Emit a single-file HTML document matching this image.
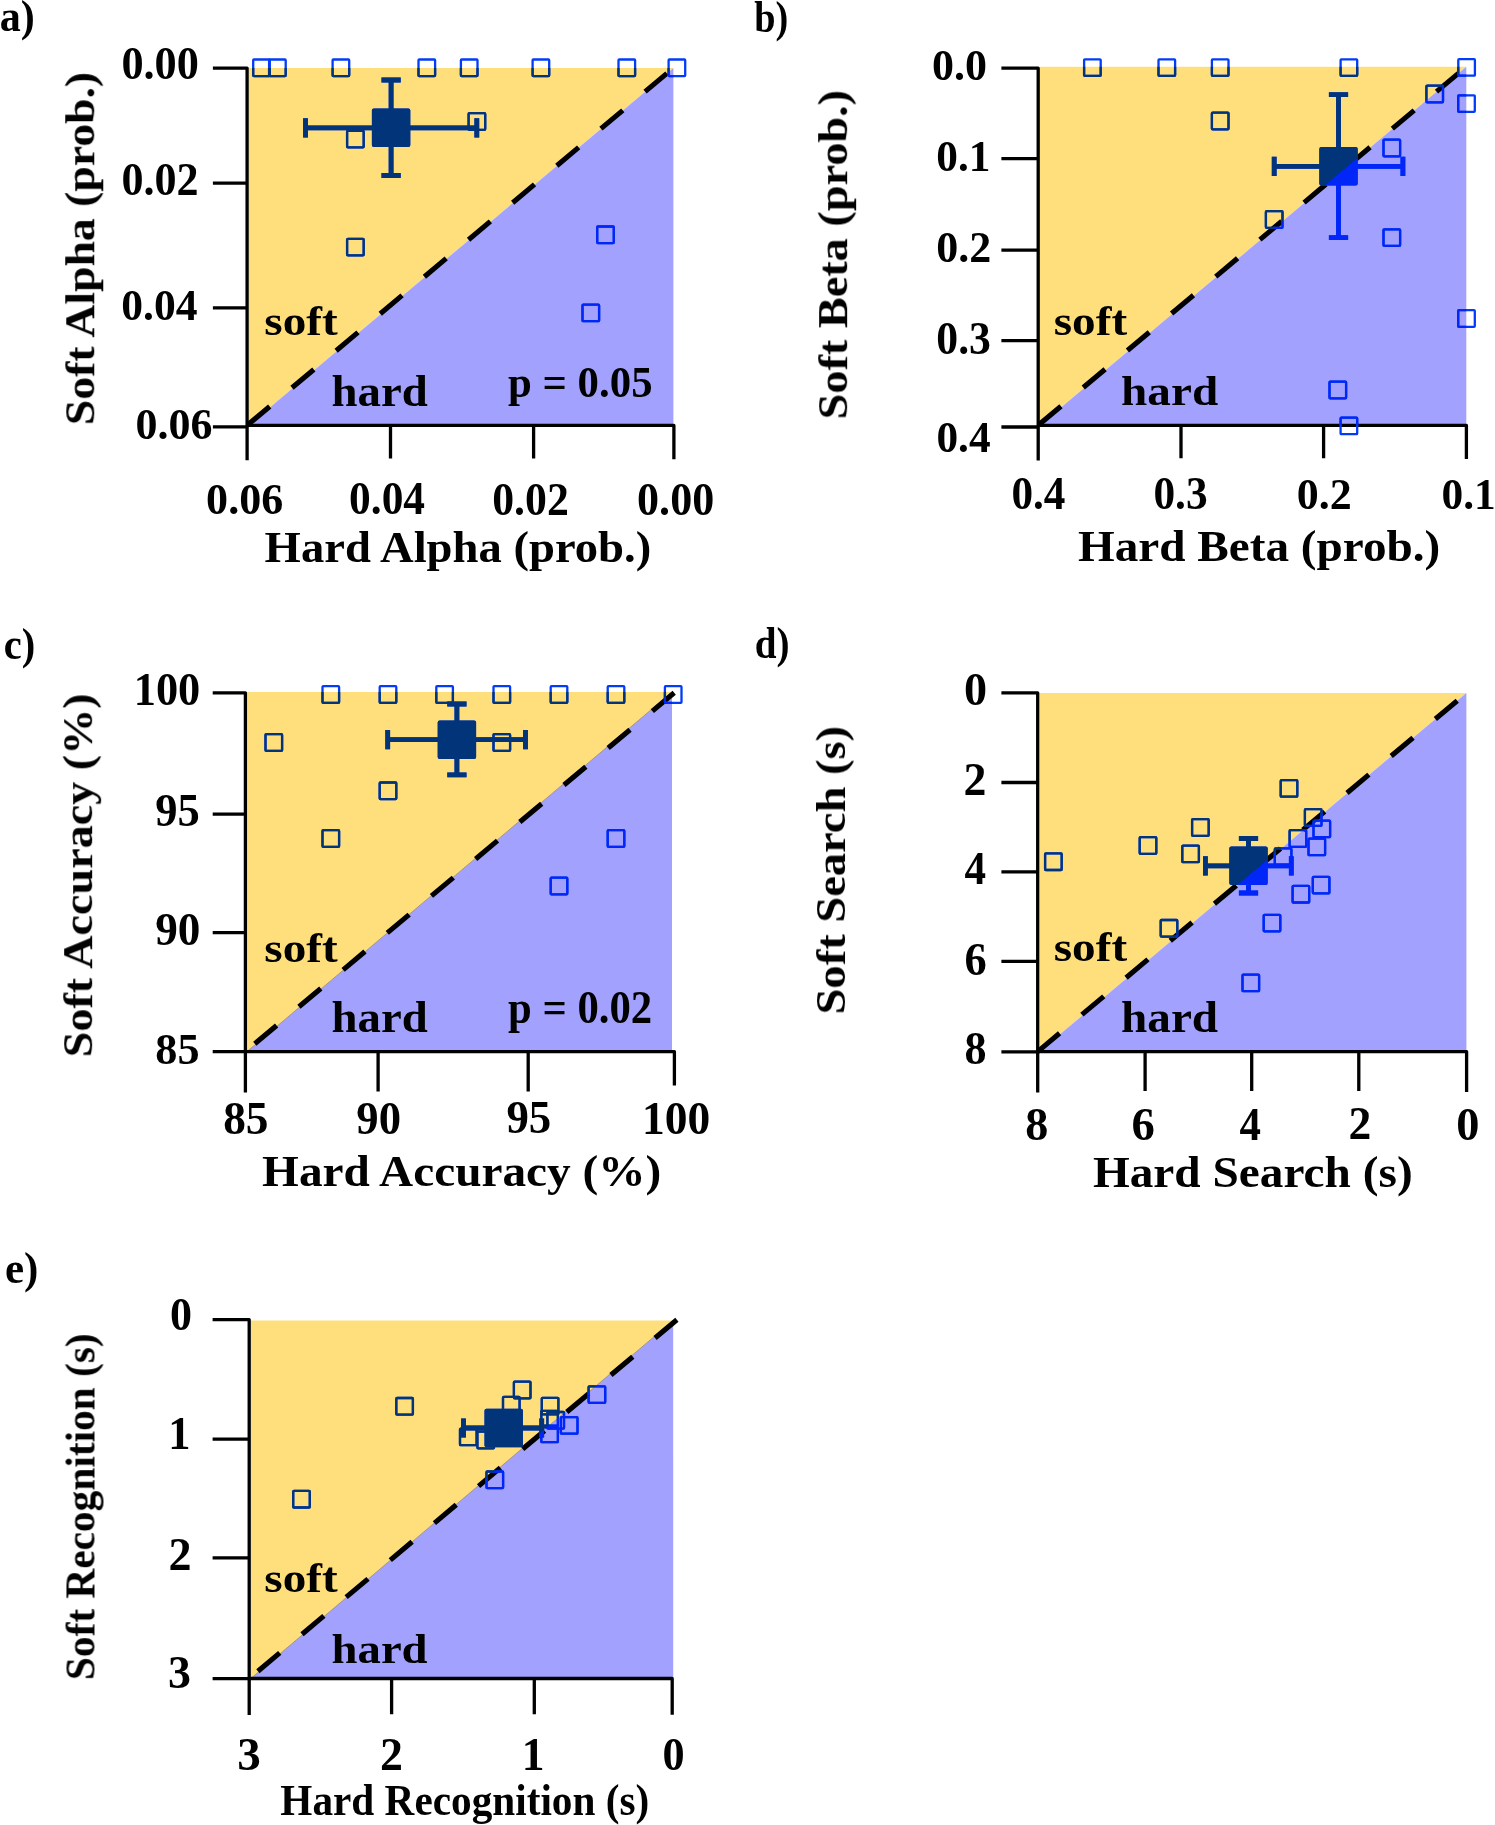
<!DOCTYPE html><html><head><meta charset="utf-8"><style>html,body{margin:0;padding:0;background:#fff;width:1495px;height:1825px;overflow:hidden}svg{display:block}text{font-family:"Liberation Serif",serif;font-weight:bold;font-size:45px;fill:#000}</style></head><body>
<svg width="1495" height="1825" viewBox="0 0 1495 1825">
<rect width="1495" height="1825" fill="#fff"/>
<defs><clipPath id="cya"><polygon points="248.6,67.9 673.4,67.9 248.6,425.4"/></clipPath><clipPath id="cpa"><polygon points="673.4,67.9 673.4,425.4 248.6,425.4"/></clipPath><clipPath id="cyb"><polygon points="1039.9,66.7 1466.3,66.7 1039.9,425.3"/></clipPath><clipPath id="cpb"><polygon points="1466.3,66.7 1466.3,425.3 1039.9,425.3"/></clipPath><clipPath id="cyc"><polygon points="247,692.1 672,692.1 247,1051.6"/></clipPath><clipPath id="cpc"><polygon points="672,692.1 672,1051.6 247,1051.6"/></clipPath><clipPath id="cyd"><polygon points="1039.4,693.1 1466.4,693.1 1039.4,1051.6"/></clipPath><clipPath id="cpd"><polygon points="1466.4,693.1 1466.4,1051.6 1039.4,1051.6"/></clipPath><clipPath id="cye"><polygon points="250.9,1320.5 673.2,1320.5 250.9,1678.5"/></clipPath><clipPath id="cpe"><polygon points="673.2,1320.5 673.2,1678.5 250.9,1678.5"/></clipPath></defs>
<g>
<polygon points="248.6,67.9 673.4,67.9 248.6,425.4" fill="#FFDF7C"/>
<polygon points="673.4,67.9 673.4,425.4 248.6,425.4" fill="#A2A2FE"/>
<path d="M212.9 68.1H247.1V460.3M212.9 183.2H247.1M212.9 307.8H247.1M212.9 426.9H247.1M247.1 425.4H673.9V459.2M390.5 425.4V458.6M533.6 425.4V458.6" stroke="#000" stroke-width="3.3" fill="none" stroke-linecap="butt" stroke-linejoin="round"/>
<line x1="247.1" y1="425.4" x2="673.4" y2="67.9" stroke="#000" stroke-width="5.1" stroke-dasharray="28.5 29.1" stroke-dashoffset="-1"/>
<g stroke="#023CF8" fill="#023CF8"><g fill="none" stroke-width="2.3" stroke-linejoin="round"><rect x="253.2" y="59.5" width="16.6" height="16.6" rx="0.8"/><rect x="269.1" y="59.5" width="16.6" height="16.6" rx="0.8"/><rect x="332.6" y="59.5" width="16.6" height="16.6" rx="0.8"/><rect x="418.5" y="59.5" width="16.6" height="16.6" rx="0.8"/><rect x="460.9" y="59.5" width="16.6" height="16.6" rx="0.8"/><rect x="532.6" y="59.5" width="16.6" height="16.6" rx="0.8"/><rect x="618.5" y="59.5" width="16.6" height="16.6" rx="0.8"/><rect x="668.6" y="59.5" width="16.6" height="16.6" rx="0.8"/><rect x="347.1" y="130.8" width="16.6" height="16.6" rx="0.8"/><rect x="468.6" y="113.2" width="16.6" height="16.6" rx="0.8"/><rect x="347.1" y="238.8" width="16.6" height="16.6" rx="0.8"/><rect x="597.2" y="226.5" width="16.6" height="16.6" rx="0.8"/><rect x="582.5" y="304.6" width="16.6" height="16.6" rx="0.8"/></g><path d="M305.5 127.8H476.8 M391.1 80V175.5 M305.5 118.2V137.4 M476.8 118.2V137.4 M381.5 80H400.7 M381.5 175.5H400.7" stroke-width="4.8" fill="none"/><rect x="371.9" y="108.6" width="38.4" height="38.4" rx="2" stroke="none"/></g>
<g stroke="#023479" fill="#023479" clip-path="url(#cya)"><g fill="none" stroke-width="2.3" stroke-linejoin="round"><rect x="253.2" y="59.5" width="16.6" height="16.6" rx="0.8"/><rect x="269.1" y="59.5" width="16.6" height="16.6" rx="0.8"/><rect x="332.6" y="59.5" width="16.6" height="16.6" rx="0.8"/><rect x="418.5" y="59.5" width="16.6" height="16.6" rx="0.8"/><rect x="460.9" y="59.5" width="16.6" height="16.6" rx="0.8"/><rect x="532.6" y="59.5" width="16.6" height="16.6" rx="0.8"/><rect x="618.5" y="59.5" width="16.6" height="16.6" rx="0.8"/><rect x="668.6" y="59.5" width="16.6" height="16.6" rx="0.8"/><rect x="347.1" y="130.8" width="16.6" height="16.6" rx="0.8"/><rect x="468.6" y="113.2" width="16.6" height="16.6" rx="0.8"/><rect x="347.1" y="238.8" width="16.6" height="16.6" rx="0.8"/><rect x="597.2" y="226.5" width="16.6" height="16.6" rx="0.8"/><rect x="582.5" y="304.6" width="16.6" height="16.6" rx="0.8"/></g><path d="M305.5 127.8H476.8 M391.1 80V175.5 M305.5 118.2V137.4 M476.8 118.2V137.4 M381.5 80H400.7 M381.5 175.5H400.7" stroke-width="4.8" fill="none"/><rect x="371.9" y="108.6" width="38.4" height="38.4" rx="2" stroke="none"/></g>
<g stroke="#0126F7" fill="#0126F7" clip-path="url(#cpa)"><g fill="none" stroke-width="2.3" stroke-linejoin="round"><rect x="253.2" y="59.5" width="16.6" height="16.6" rx="0.8"/><rect x="269.1" y="59.5" width="16.6" height="16.6" rx="0.8"/><rect x="332.6" y="59.5" width="16.6" height="16.6" rx="0.8"/><rect x="418.5" y="59.5" width="16.6" height="16.6" rx="0.8"/><rect x="460.9" y="59.5" width="16.6" height="16.6" rx="0.8"/><rect x="532.6" y="59.5" width="16.6" height="16.6" rx="0.8"/><rect x="618.5" y="59.5" width="16.6" height="16.6" rx="0.8"/><rect x="668.6" y="59.5" width="16.6" height="16.6" rx="0.8"/><rect x="347.1" y="130.8" width="16.6" height="16.6" rx="0.8"/><rect x="468.6" y="113.2" width="16.6" height="16.6" rx="0.8"/><rect x="347.1" y="238.8" width="16.6" height="16.6" rx="0.8"/><rect x="597.2" y="226.5" width="16.6" height="16.6" rx="0.8"/><rect x="582.5" y="304.6" width="16.6" height="16.6" rx="0.8"/></g><path d="M305.5 127.8H476.8 M391.1 80V175.5 M305.5 118.2V137.4 M476.8 118.2V137.4 M381.5 80H400.7 M381.5 175.5H400.7" stroke-width="4.8" fill="none"/><rect x="371.9" y="108.6" width="38.4" height="38.4" rx="2" stroke="none"/></g>
</g>
<g>
<polygon points="1039.9,66.7 1466.3,66.7 1039.9,425.3" fill="#FFDF7C"/>
<polygon points="1466.3,66.7 1466.3,425.3 1039.9,425.3" fill="#A2A2FE"/>
<path d="M1001.4 68.1H1038.2V460.6M1001.4 158.7H1038.2M1001.4 250.2H1038.2M1001.4 340.6H1038.2M1001.4 427H1038.2M1038.2 425.3H1466.4V458.9M1181 425.3V458.2M1323.6 425.3V458.2" stroke="#000" stroke-width="3.3" fill="none" stroke-linecap="butt" stroke-linejoin="round"/>
<line x1="1038.2" y1="425.3" x2="1466.3" y2="66.7" stroke="#000" stroke-width="5.1" stroke-dasharray="28.5 29.1" stroke-dashoffset="-1.2"/>
<g stroke="#023CF8" fill="#023CF8"><g fill="none" stroke-width="2.3" stroke-linejoin="round"><rect x="1084.1" y="59.3" width="16.6" height="16.6" rx="0.8"/><rect x="1158.5" y="59.3" width="16.6" height="16.6" rx="0.8"/><rect x="1211.9" y="59.3" width="16.6" height="16.6" rx="0.8"/><rect x="1340.6" y="59.3" width="16.6" height="16.6" rx="0.8"/><rect x="1458.3" y="59.1" width="16.6" height="16.6" rx="0.8"/><rect x="1211.9" y="112.7" width="16.6" height="16.6" rx="0.8"/><rect x="1426.4" y="85.7" width="16.6" height="16.6" rx="0.8"/><rect x="1458.2" y="95.3" width="16.6" height="16.6" rx="0.8"/><rect x="1383.5" y="139.7" width="16.6" height="16.6" rx="0.8"/><rect x="1265.9" y="211.2" width="16.6" height="16.6" rx="0.8"/><rect x="1383.5" y="229.3" width="16.6" height="16.6" rx="0.8"/><rect x="1458.2" y="310.2" width="16.6" height="16.6" rx="0.8"/><rect x="1329.5" y="381.7" width="16.6" height="16.6" rx="0.8"/><rect x="1340.6" y="417.6" width="16.6" height="16.6" rx="0.8"/></g><path d="M1274.2 166.3H1402.9 M1338.5 94.7V237.6 M1274.2 156.7V175.9 M1402.9 156.7V175.9 M1328.9 94.7H1348.1 M1328.9 237.6H1348.1" stroke-width="4.8" fill="none"/><rect x="1319.3" y="147.1" width="38.4" height="38.4" rx="2" stroke="none"/></g>
<g stroke="#023479" fill="#023479" clip-path="url(#cyb)"><g fill="none" stroke-width="2.3" stroke-linejoin="round"><rect x="1084.1" y="59.3" width="16.6" height="16.6" rx="0.8"/><rect x="1158.5" y="59.3" width="16.6" height="16.6" rx="0.8"/><rect x="1211.9" y="59.3" width="16.6" height="16.6" rx="0.8"/><rect x="1340.6" y="59.3" width="16.6" height="16.6" rx="0.8"/><rect x="1458.3" y="59.1" width="16.6" height="16.6" rx="0.8"/><rect x="1211.9" y="112.7" width="16.6" height="16.6" rx="0.8"/><rect x="1426.4" y="85.7" width="16.6" height="16.6" rx="0.8"/><rect x="1458.2" y="95.3" width="16.6" height="16.6" rx="0.8"/><rect x="1383.5" y="139.7" width="16.6" height="16.6" rx="0.8"/><rect x="1265.9" y="211.2" width="16.6" height="16.6" rx="0.8"/><rect x="1383.5" y="229.3" width="16.6" height="16.6" rx="0.8"/><rect x="1458.2" y="310.2" width="16.6" height="16.6" rx="0.8"/><rect x="1329.5" y="381.7" width="16.6" height="16.6" rx="0.8"/><rect x="1340.6" y="417.6" width="16.6" height="16.6" rx="0.8"/></g><path d="M1274.2 166.3H1402.9 M1338.5 94.7V237.6 M1274.2 156.7V175.9 M1402.9 156.7V175.9 M1328.9 94.7H1348.1 M1328.9 237.6H1348.1" stroke-width="4.8" fill="none"/><rect x="1319.3" y="147.1" width="38.4" height="38.4" rx="2" stroke="none"/></g>
<g stroke="#0126F7" fill="#0126F7" clip-path="url(#cpb)"><g fill="none" stroke-width="2.3" stroke-linejoin="round"><rect x="1084.1" y="59.3" width="16.6" height="16.6" rx="0.8"/><rect x="1158.5" y="59.3" width="16.6" height="16.6" rx="0.8"/><rect x="1211.9" y="59.3" width="16.6" height="16.6" rx="0.8"/><rect x="1340.6" y="59.3" width="16.6" height="16.6" rx="0.8"/><rect x="1458.3" y="59.1" width="16.6" height="16.6" rx="0.8"/><rect x="1211.9" y="112.7" width="16.6" height="16.6" rx="0.8"/><rect x="1426.4" y="85.7" width="16.6" height="16.6" rx="0.8"/><rect x="1458.2" y="95.3" width="16.6" height="16.6" rx="0.8"/><rect x="1383.5" y="139.7" width="16.6" height="16.6" rx="0.8"/><rect x="1265.9" y="211.2" width="16.6" height="16.6" rx="0.8"/><rect x="1383.5" y="229.3" width="16.6" height="16.6" rx="0.8"/><rect x="1458.2" y="310.2" width="16.6" height="16.6" rx="0.8"/><rect x="1329.5" y="381.7" width="16.6" height="16.6" rx="0.8"/><rect x="1340.6" y="417.6" width="16.6" height="16.6" rx="0.8"/></g><path d="M1274.2 166.3H1402.9 M1338.5 94.7V237.6 M1274.2 156.7V175.9 M1402.9 156.7V175.9 M1328.9 94.7H1348.1 M1328.9 237.6H1348.1" stroke-width="4.8" fill="none"/><rect x="1319.3" y="147.1" width="38.4" height="38.4" rx="2" stroke="none"/></g>
</g>
<g>
<polygon points="247,692.1 672,692.1 247,1051.6" fill="#FFDF7C"/>
<polygon points="672,692.1 672,1051.6 247,1051.6" fill="#A2A2FE"/>
<line x1="247" y1="1051.6" x2="672" y2="692.1" stroke="#A28E7C" stroke-width="0.9"/>
<path d="M212.7 692.8H245.4V1092.6M212.7 814.1H245.4M212.7 932.7H245.4M212.7 1051.7H245.4M245.4 1051.6H674.4V1085.4M378.1 1051.6V1091.5M528.2 1051.6V1091.5" stroke="#000" stroke-width="3.3" fill="none" stroke-linecap="butt" stroke-linejoin="round"/>
<line x1="674.2" y1="692.8" x2="245.4" y2="1051.6" stroke="#000" stroke-width="5.1" stroke-dasharray="28.5 29.1" stroke-dashoffset="0"/>
<g stroke="#023CF8" fill="#023CF8"><g fill="none" stroke-width="2.3" stroke-linejoin="round"><rect x="322.5" y="686.2" width="16.6" height="16.6" rx="0.8"/><rect x="379.7" y="686.2" width="16.6" height="16.6" rx="0.8"/><rect x="436.3" y="686.2" width="16.6" height="16.6" rx="0.8"/><rect x="493.5" y="686.2" width="16.6" height="16.6" rx="0.8"/><rect x="550.7" y="686.2" width="16.6" height="16.6" rx="0.8"/><rect x="607.7" y="686.2" width="16.6" height="16.6" rx="0.8"/><rect x="664.9" y="686.2" width="16.6" height="16.6" rx="0.8"/><rect x="265.5" y="734.2" width="16.6" height="16.6" rx="0.8"/><rect x="379.7" y="782.5" width="16.6" height="16.6" rx="0.8"/><rect x="322.5" y="830.2" width="16.6" height="16.6" rx="0.8"/><rect x="493.5" y="734.2" width="16.6" height="16.6" rx="0.8"/><rect x="607.7" y="830.2" width="16.6" height="16.6" rx="0.8"/><rect x="550.7" y="877.7" width="16.6" height="16.6" rx="0.8"/></g><path d="M387.7 739.7H525.5 M456.9 704V774.8 M387.7 730.1V749.3 M525.5 730.1V749.3 M447.3 704H466.5 M447.3 774.8H466.5" stroke-width="4.8" fill="none"/><rect x="437.7" y="720.5" width="38.4" height="38.4" rx="2" stroke="none"/></g>
<g stroke="#023479" fill="#023479" clip-path="url(#cyc)"><g fill="none" stroke-width="2.3" stroke-linejoin="round"><rect x="322.5" y="686.2" width="16.6" height="16.6" rx="0.8"/><rect x="379.7" y="686.2" width="16.6" height="16.6" rx="0.8"/><rect x="436.3" y="686.2" width="16.6" height="16.6" rx="0.8"/><rect x="493.5" y="686.2" width="16.6" height="16.6" rx="0.8"/><rect x="550.7" y="686.2" width="16.6" height="16.6" rx="0.8"/><rect x="607.7" y="686.2" width="16.6" height="16.6" rx="0.8"/><rect x="664.9" y="686.2" width="16.6" height="16.6" rx="0.8"/><rect x="265.5" y="734.2" width="16.6" height="16.6" rx="0.8"/><rect x="379.7" y="782.5" width="16.6" height="16.6" rx="0.8"/><rect x="322.5" y="830.2" width="16.6" height="16.6" rx="0.8"/><rect x="493.5" y="734.2" width="16.6" height="16.6" rx="0.8"/><rect x="607.7" y="830.2" width="16.6" height="16.6" rx="0.8"/><rect x="550.7" y="877.7" width="16.6" height="16.6" rx="0.8"/></g><path d="M387.7 739.7H525.5 M456.9 704V774.8 M387.7 730.1V749.3 M525.5 730.1V749.3 M447.3 704H466.5 M447.3 774.8H466.5" stroke-width="4.8" fill="none"/><rect x="437.7" y="720.5" width="38.4" height="38.4" rx="2" stroke="none"/></g>
<g stroke="#0126F7" fill="#0126F7" clip-path="url(#cpc)"><g fill="none" stroke-width="2.3" stroke-linejoin="round"><rect x="322.5" y="686.2" width="16.6" height="16.6" rx="0.8"/><rect x="379.7" y="686.2" width="16.6" height="16.6" rx="0.8"/><rect x="436.3" y="686.2" width="16.6" height="16.6" rx="0.8"/><rect x="493.5" y="686.2" width="16.6" height="16.6" rx="0.8"/><rect x="550.7" y="686.2" width="16.6" height="16.6" rx="0.8"/><rect x="607.7" y="686.2" width="16.6" height="16.6" rx="0.8"/><rect x="664.9" y="686.2" width="16.6" height="16.6" rx="0.8"/><rect x="265.5" y="734.2" width="16.6" height="16.6" rx="0.8"/><rect x="379.7" y="782.5" width="16.6" height="16.6" rx="0.8"/><rect x="322.5" y="830.2" width="16.6" height="16.6" rx="0.8"/><rect x="493.5" y="734.2" width="16.6" height="16.6" rx="0.8"/><rect x="607.7" y="830.2" width="16.6" height="16.6" rx="0.8"/><rect x="550.7" y="877.7" width="16.6" height="16.6" rx="0.8"/></g><path d="M387.7 739.7H525.5 M456.9 704V774.8 M387.7 730.1V749.3 M525.5 730.1V749.3 M447.3 704H466.5 M447.3 774.8H466.5" stroke-width="4.8" fill="none"/><rect x="437.7" y="720.5" width="38.4" height="38.4" rx="2" stroke="none"/></g>
</g>
<g>
<polygon points="1039.4,693.1 1466.4,693.1 1039.4,1051.6" fill="#FFDF7C"/>
<polygon points="1466.4,693.1 1466.4,1051.6 1039.4,1051.6" fill="#A2A2FE"/>
<path d="M1001.4 692.9H1037.7V1092.6M1001.4 782.5H1037.7M1001.4 871.8H1037.7M1001.4 961.4H1037.7M1001.4 1051.8H1037.7M1037.7 1051.6H1466.6V1091.9M1145.1 1051.6V1090.9M1251.7 1051.6V1090.9M1358.8 1051.6V1090.9" stroke="#000" stroke-width="3.3" fill="none" stroke-linecap="butt" stroke-linejoin="round"/>
<line x1="1037.7" y1="1051.6" x2="1466.4" y2="693.1" stroke="#000" stroke-width="5.1" stroke-dasharray="28.5 29.1" stroke-dashoffset="0"/>
<g stroke="#023CF8" fill="#023CF8"><g fill="none" stroke-width="2.3" stroke-linejoin="round"><rect x="1045.1" y="853.4" width="16.6" height="16.6" rx="0.8"/><rect x="1139.7" y="837.2" width="16.6" height="16.6" rx="0.8"/><rect x="1192.1" y="819.2" width="16.6" height="16.6" rx="0.8"/><rect x="1182.3" y="845.6" width="16.6" height="16.6" rx="0.8"/><rect x="1280.7" y="780.1" width="16.6" height="16.6" rx="0.8"/><rect x="1304.9" y="809.2" width="16.6" height="16.6" rx="0.8"/><rect x="1313.5" y="820.6" width="16.6" height="16.6" rx="0.8"/><rect x="1289.6" y="830.2" width="16.6" height="16.6" rx="0.8"/><rect x="1308.5" y="838.6" width="16.6" height="16.6" rx="0.8"/><rect x="1274.8" y="848.4" width="16.6" height="16.6" rx="0.8"/><rect x="1312.8" y="876.8" width="16.6" height="16.6" rx="0.8"/><rect x="1292.6" y="885.9" width="16.6" height="16.6" rx="0.8"/><rect x="1263.7" y="914.8" width="16.6" height="16.6" rx="0.8"/><rect x="1160.7" y="920" width="16.6" height="16.6" rx="0.8"/><rect x="1242.5" y="974.6" width="16.6" height="16.6" rx="0.8"/></g><path d="M1205.4 865.8H1291.3 M1248.5 838.5V893 M1205.4 856.2V875.4 M1291.3 856.2V875.4 M1238.9 838.5H1258.1 M1238.9 893H1258.1" stroke-width="4.8" fill="none"/><rect x="1229.3" y="846.6" width="38.4" height="38.4" rx="2" stroke="none"/></g>
<g stroke="#023479" fill="#023479" clip-path="url(#cyd)"><g fill="none" stroke-width="2.3" stroke-linejoin="round"><rect x="1045.1" y="853.4" width="16.6" height="16.6" rx="0.8"/><rect x="1139.7" y="837.2" width="16.6" height="16.6" rx="0.8"/><rect x="1192.1" y="819.2" width="16.6" height="16.6" rx="0.8"/><rect x="1182.3" y="845.6" width="16.6" height="16.6" rx="0.8"/><rect x="1280.7" y="780.1" width="16.6" height="16.6" rx="0.8"/><rect x="1304.9" y="809.2" width="16.6" height="16.6" rx="0.8"/><rect x="1313.5" y="820.6" width="16.6" height="16.6" rx="0.8"/><rect x="1289.6" y="830.2" width="16.6" height="16.6" rx="0.8"/><rect x="1308.5" y="838.6" width="16.6" height="16.6" rx="0.8"/><rect x="1274.8" y="848.4" width="16.6" height="16.6" rx="0.8"/><rect x="1312.8" y="876.8" width="16.6" height="16.6" rx="0.8"/><rect x="1292.6" y="885.9" width="16.6" height="16.6" rx="0.8"/><rect x="1263.7" y="914.8" width="16.6" height="16.6" rx="0.8"/><rect x="1160.7" y="920" width="16.6" height="16.6" rx="0.8"/><rect x="1242.5" y="974.6" width="16.6" height="16.6" rx="0.8"/></g><path d="M1205.4 865.8H1291.3 M1248.5 838.5V893 M1205.4 856.2V875.4 M1291.3 856.2V875.4 M1238.9 838.5H1258.1 M1238.9 893H1258.1" stroke-width="4.8" fill="none"/><rect x="1229.3" y="846.6" width="38.4" height="38.4" rx="2" stroke="none"/></g>
<g stroke="#0126F7" fill="#0126F7" clip-path="url(#cpd)"><g fill="none" stroke-width="2.3" stroke-linejoin="round"><rect x="1045.1" y="853.4" width="16.6" height="16.6" rx="0.8"/><rect x="1139.7" y="837.2" width="16.6" height="16.6" rx="0.8"/><rect x="1192.1" y="819.2" width="16.6" height="16.6" rx="0.8"/><rect x="1182.3" y="845.6" width="16.6" height="16.6" rx="0.8"/><rect x="1280.7" y="780.1" width="16.6" height="16.6" rx="0.8"/><rect x="1304.9" y="809.2" width="16.6" height="16.6" rx="0.8"/><rect x="1313.5" y="820.6" width="16.6" height="16.6" rx="0.8"/><rect x="1289.6" y="830.2" width="16.6" height="16.6" rx="0.8"/><rect x="1308.5" y="838.6" width="16.6" height="16.6" rx="0.8"/><rect x="1274.8" y="848.4" width="16.6" height="16.6" rx="0.8"/><rect x="1312.8" y="876.8" width="16.6" height="16.6" rx="0.8"/><rect x="1292.6" y="885.9" width="16.6" height="16.6" rx="0.8"/><rect x="1263.7" y="914.8" width="16.6" height="16.6" rx="0.8"/><rect x="1160.7" y="920" width="16.6" height="16.6" rx="0.8"/><rect x="1242.5" y="974.6" width="16.6" height="16.6" rx="0.8"/></g><path d="M1205.4 865.8H1291.3 M1248.5 838.5V893 M1205.4 856.2V875.4 M1291.3 856.2V875.4 M1238.9 838.5H1258.1 M1238.9 893H1258.1" stroke-width="4.8" fill="none"/><rect x="1229.3" y="846.6" width="38.4" height="38.4" rx="2" stroke="none"/></g>
</g>
<g>
<polygon points="250.9,1320.5 673.2,1320.5 250.9,1678.5" fill="#FFDF7C"/>
<polygon points="673.2,1320.5 673.2,1678.5 250.9,1678.5" fill="#A2A2FE"/>
<line x1="250.9" y1="1678.5" x2="673.2" y2="1320.5" stroke="#A28E7C" stroke-width="0.9"/>
<path d="M212.6 1319.7H249.2V1715M212.6 1439.1H249.2M212.6 1557.9H249.2M212.6 1678.6H249.2M249.2 1678.5H672.2V1714.8M391.6 1678.5V1714.2M534.3 1678.5V1714.2" stroke="#000" stroke-width="3.3" fill="none" stroke-linecap="butt" stroke-linejoin="round"/>
<line x1="676.9" y1="1319.7" x2="249.2" y2="1678.5" stroke="#000" stroke-width="5.1" stroke-dasharray="28.5 29.1" stroke-dashoffset="0"/>
<g stroke="#023CF8" fill="#023CF8"><g fill="none" stroke-width="2.3" stroke-linejoin="round"><rect x="396.3" y="1398" width="16.6" height="16.6" rx="0.8"/><rect x="293.2" y="1490.9" width="16.6" height="16.6" rx="0.8"/><rect x="486.5" y="1471.5" width="16.6" height="16.6" rx="0.8"/><rect x="588.6" y="1386.3" width="16.6" height="16.6" rx="0.8"/><rect x="560.9" y="1417.1" width="16.6" height="16.6" rx="0.8"/><rect x="513.9" y="1381.7" width="16.6" height="16.6" rx="0.8"/><rect x="503" y="1396.9" width="16.6" height="16.6" rx="0.8"/><rect x="541.8" y="1397.8" width="16.6" height="16.6" rx="0.8"/><rect x="460" y="1428.6" width="16.6" height="16.6" rx="0.8"/><rect x="477.4" y="1431.7" width="16.6" height="16.6" rx="0.8"/><rect x="541.3" y="1410.8" width="16.6" height="16.6" rx="0.8"/><rect x="547.4" y="1412" width="16.6" height="16.6" rx="0.8"/><rect x="541.3" y="1425.6" width="16.6" height="16.6" rx="0.8"/></g><path d="M463.5 1428H541.7 M503.7 1424V1432 M463.5 1418.4V1437.6 M541.7 1418.4V1437.6 M494.1 1424H513.3 M494.1 1432H513.3" stroke-width="4.8" fill="none"/><rect x="484.5" y="1408.8" width="38.4" height="38.4" rx="2" stroke="none"/></g>
<g stroke="#023479" fill="#023479" clip-path="url(#cye)"><g fill="none" stroke-width="2.3" stroke-linejoin="round"><rect x="396.3" y="1398" width="16.6" height="16.6" rx="0.8"/><rect x="293.2" y="1490.9" width="16.6" height="16.6" rx="0.8"/><rect x="486.5" y="1471.5" width="16.6" height="16.6" rx="0.8"/><rect x="588.6" y="1386.3" width="16.6" height="16.6" rx="0.8"/><rect x="560.9" y="1417.1" width="16.6" height="16.6" rx="0.8"/><rect x="513.9" y="1381.7" width="16.6" height="16.6" rx="0.8"/><rect x="503" y="1396.9" width="16.6" height="16.6" rx="0.8"/><rect x="541.8" y="1397.8" width="16.6" height="16.6" rx="0.8"/><rect x="460" y="1428.6" width="16.6" height="16.6" rx="0.8"/><rect x="477.4" y="1431.7" width="16.6" height="16.6" rx="0.8"/><rect x="541.3" y="1410.8" width="16.6" height="16.6" rx="0.8"/><rect x="547.4" y="1412" width="16.6" height="16.6" rx="0.8"/><rect x="541.3" y="1425.6" width="16.6" height="16.6" rx="0.8"/></g><path d="M463.5 1428H541.7 M503.7 1424V1432 M463.5 1418.4V1437.6 M541.7 1418.4V1437.6 M494.1 1424H513.3 M494.1 1432H513.3" stroke-width="4.8" fill="none"/><rect x="484.5" y="1408.8" width="38.4" height="38.4" rx="2" stroke="none"/></g>
<g stroke="#0126F7" fill="#0126F7" clip-path="url(#cpe)"><g fill="none" stroke-width="2.3" stroke-linejoin="round"><rect x="396.3" y="1398" width="16.6" height="16.6" rx="0.8"/><rect x="293.2" y="1490.9" width="16.6" height="16.6" rx="0.8"/><rect x="486.5" y="1471.5" width="16.6" height="16.6" rx="0.8"/><rect x="588.6" y="1386.3" width="16.6" height="16.6" rx="0.8"/><rect x="560.9" y="1417.1" width="16.6" height="16.6" rx="0.8"/><rect x="513.9" y="1381.7" width="16.6" height="16.6" rx="0.8"/><rect x="503" y="1396.9" width="16.6" height="16.6" rx="0.8"/><rect x="541.8" y="1397.8" width="16.6" height="16.6" rx="0.8"/><rect x="460" y="1428.6" width="16.6" height="16.6" rx="0.8"/><rect x="477.4" y="1431.7" width="16.6" height="16.6" rx="0.8"/><rect x="541.3" y="1410.8" width="16.6" height="16.6" rx="0.8"/><rect x="547.4" y="1412" width="16.6" height="16.6" rx="0.8"/><rect x="541.3" y="1425.6" width="16.6" height="16.6" rx="0.8"/></g><path d="M463.5 1428H541.7 M503.7 1424V1432 M463.5 1418.4V1437.6 M541.7 1418.4V1437.6 M494.1 1424H513.3 M494.1 1432H513.3" stroke-width="4.8" fill="none"/><rect x="484.5" y="1408.8" width="38.4" height="38.4" rx="2" stroke="none"/></g>
</g>
<g style="opacity:0.999"><text transform="matrix(0.9353 0 0 0.9674 -0.30 31.11)">a)</text><text transform="matrix(0.8508 0 0 0.9644 754.17 32.44)">b)</text><text transform="matrix(0.9016 0 0 0.9797 3.65 658.89)">c)</text><text transform="matrix(0.8692 0 0 0.9767 754.77 657.82)">d)</text><text transform="matrix(0.9587 0 0 0.9674 4.96 1282.71)">e)</text><text transform="matrix(0.9847 0 0 1.0098 121.38 79.37)">0.00</text><text transform="matrix(0.9810 0 0 1.0098 121.38 194.87)">0.02</text><text transform="matrix(0.9695 0 0 1.0033 121.30 319.87)">0.04</text><text transform="matrix(0.9785 0 0 1.0066 135.39 438.87)">0.06</text><text transform="matrix(0.9798 0 0 0.9967 206.09 513.58)">0.06</text><text transform="matrix(0.9642 0 0 1.0197 349.11 513.96)">0.04</text><text transform="matrix(0.9730 0 0 1.0098 492.20 514.57)">0.02</text><text transform="matrix(0.9794 0 0 1.0098 637.09 514.57)">0.00</text><text transform="matrix(1.0366 0 0 0.9859 264.62 561.61)">Hard Alpha (prob.)</text><text transform="matrix(0 -1.0156 0.9378 0 93.77 425.21)">Soft Alpha (prob.)</text><text transform="matrix(1.0486 0 0 0.9500 264.36 335.04)">soft</text><text transform="matrix(1.0410 0 0 0.9676 331.53 405.54)">hard</text><text transform="matrix(0.9517 0 0 1.0025 508.01 397.35)">p = 0.05</text><text transform="matrix(0.9782 0 0 1.0066 931.89 80.47)">0.0</text><text transform="matrix(0.9631 0 0 1.0033 936.31 170.57)">0.1</text><text transform="matrix(0.9786 0 0 0.9902 936.29 261.78)">0.2</text><text transform="matrix(0.9717 0 0 1.0164 936.30 353.66)">0.3</text><text transform="matrix(0.9622 0 0 0.9967 936.42 452.48)">0.4</text><text transform="matrix(0.9604 0 0 1.0098 1011.42 509.47)">0.4</text><text transform="matrix(0.9642 0 0 1.0098 1153.41 509.47)">0.3</text><text transform="matrix(0.9767 0 0 1.0000 1296.79 509.47)">0.2</text><text transform="matrix(0.9650 0 0 1.0000 1441.51 509.47)">0.1</text><text transform="matrix(1.0493 0 0 0.9761 1077.91 561.40)">Hard Beta (prob.)</text><text transform="matrix(0 -1.0288 0.9450 0 846.90 419.44)">Soft Beta (prob.)</text><text transform="matrix(1.0486 0 0 0.9531 1053.76 335.04)">soft</text><text transform="matrix(1.0487 0 0 0.9486 1121.12 405.34)">hard</text><text transform="matrix(0.9867 0 0 1.0248 133.72 705.02)">100</text><text transform="matrix(0.9899 0 0 1.0149 155.26 825.99)">95</text><text transform="matrix(1.0048 0 0 1.0173 155.14 945.09)">90</text><text transform="matrix(0.9839 0 0 1.0083 155.32 1064.02)">85</text><text transform="matrix(1.0078 0 0 1.0182 223.19 1133.82)">85</text><text transform="matrix(0.9929 0 0 1.0140 356.36 1133.69)">90</text><text transform="matrix(0.9970 0 0 1.0182 506.45 1133.39)">95</text><text transform="matrix(1.0109 0 0 1.0182 642.04 1133.52)">100</text><text transform="matrix(1.0511 0 0 0.9707 262.11 1185.64)">Hard Accuracy (%)</text><text transform="matrix(0 -1.0257 0.9373 0 92.66 1057.34)">Soft Accuracy (%)</text><text transform="matrix(1.0486 0 0 0.9594 264.36 961.54)">soft</text><text transform="matrix(1.0410 0 0 0.9644 331.53 1031.94)">hard</text><text transform="matrix(0.9493 0 0 1.0101 508.01 1022.58)">p = 0.02</text><text transform="matrix(1.0263 0 0 1.0149 964.10 704.92)">0</text><text transform="matrix(1.0187 0 0 1.0185 963.59 795.20)">2</text><text transform="matrix(0.9571 0 0 1.0194 964.60 884.30)">4</text><text transform="matrix(0.9885 0 0 1.0191 964.52 974.62)">6</text><text transform="matrix(0.9795 0 0 1.0116 964.53 1064.32)">8</text><text transform="matrix(1.0256 0 0 1.0248 1025.36 1139.72)">8</text><text transform="matrix(1.0395 0 0 1.0290 1131.54 1139.71)">6</text><text transform="matrix(0.9524 0 0 1.0329 1239.60 1139.70)">4</text><text transform="matrix(1.0133 0 0 1.0118 1348.50 1139.40)">2</text><text transform="matrix(1.0316 0 0 1.0248 1456.19 1139.72)">0</text><text transform="matrix(1.0515 0 0 0.9840 1092.91 1186.95)">Hard Search (s)</text><text transform="matrix(0 -1.0340 0.9309 0 845.26 1014.46)">Soft Search (s)</text><text transform="matrix(1.0486 0 0 0.9563 1053.76 961.44)">soft</text><text transform="matrix(1.0498 0 0 0.9613 1121.02 1031.84)">hard</text><text transform="matrix(0.9789 0 0 1.0215 170.09 1330.22)">0</text><text transform="matrix(0.9879 0 0 1.0252 168.22 1449.40)">1</text><text transform="matrix(1.0240 0 0 1.0185 168.48 1569.50)">2</text><text transform="matrix(1.0182 0 0 1.0191 168.12 1688.32)">3</text><text transform="matrix(1.0442 0 0 1.0224 237.17 1769.52)">3</text><text transform="matrix(1.0187 0 0 1.0218 379.89 1769.50)">2</text><text transform="matrix(1.0121 0 0 1.0218 521.73 1769.50)">1</text><text transform="matrix(0.9842 0 0 1.0182 662.58 1769.52)">0</text><text transform="matrix(0.9168 0 0 0.9653 280.31 1815.37)">Hard Recognition (s)</text><text transform="matrix(0 -0.9193 0.9489 0 94.43 1680.18)">Soft Recognition (s)</text><text transform="matrix(1.0486 0 0 0.9437 264.36 1592.15)">soft</text><text transform="matrix(1.0388 0 0 0.9549 331.53 1662.74)">hard</text></g>
</svg></body></html>
